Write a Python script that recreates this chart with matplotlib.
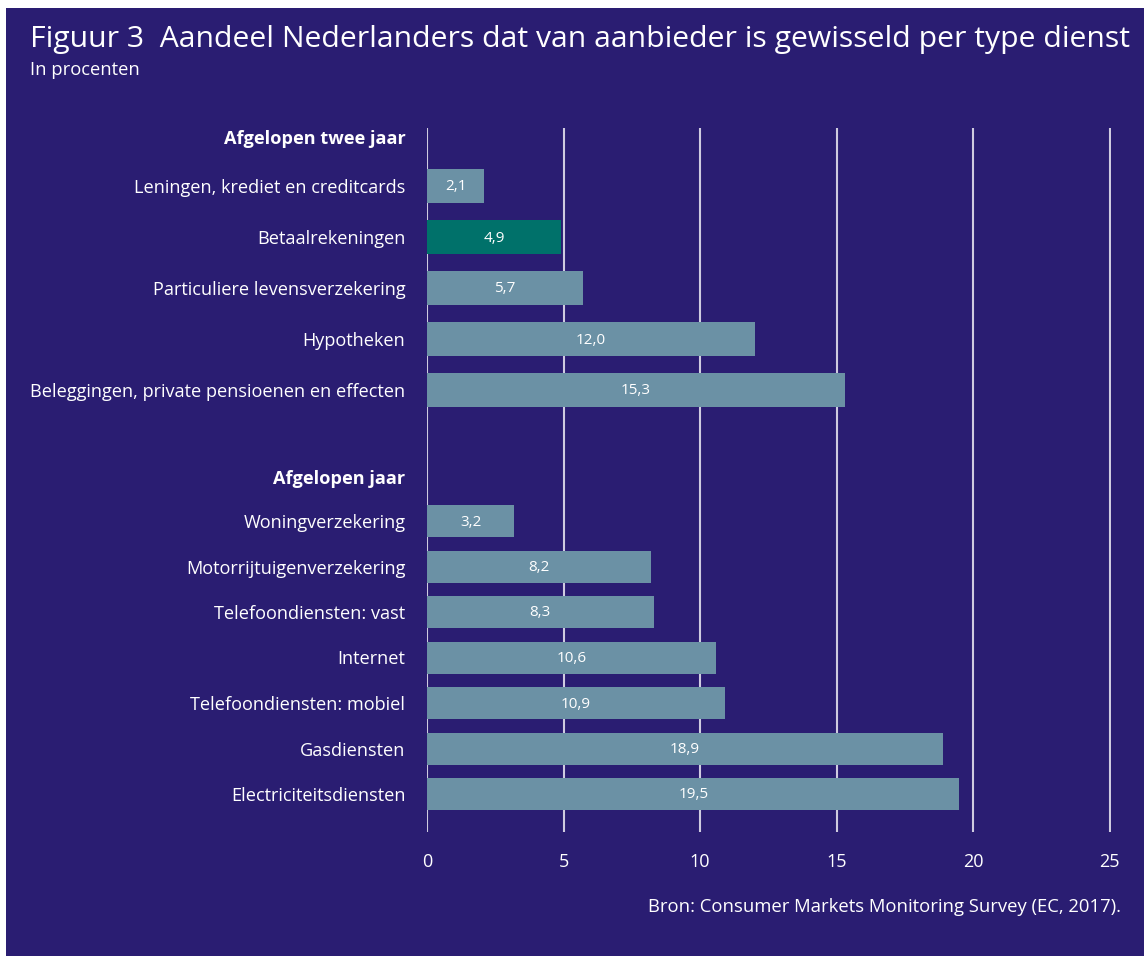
import matplotlib
matplotlib.use("Agg")
import matplotlib.pyplot as plt
from matplotlib.patches import Rectangle

# ---- data ----
group1_header = "Afgelopen twee jaar"
group1_labels = ["Leningen, krediet en creditcards", "Betaalrekeningen",
                 "Particuliere levensverzekering", "Hypotheken",
                 "Beleggingen, private pensioenen en effecten"]
group1_values = [2.1, 4.9, 5.7, 12.0, 15.3]

group2_header = "Afgelopen jaar"
group2_labels = ["Woningverzekering", "Motorrijtuigenverzekering",
                 "Telefoondiensten: vast", "Internet", "Telefoondiensten: mobiel",
                 "Gasdiensten", "Electriciteitsdiensten"]
group2_values = [3.2, 8.2, 8.3, 10.6, 10.9, 18.9, 19.5]

highlight = "Betaalrekeningen"
xticks = [0, 5, 10, 15, 20, 25]

# ---- style ----
NAVY = "#2a1d72"
BAR = "#6b91a5"
TEAL = "#00716a"
GRID = "#cfcbe0"
TXT = "#ffffff"
FONT = ["Open Sans", "DejaVu Sans"]
plt.rcParams["font.family"] = FONT

W, H = 1144, 956
fig = plt.figure(figsize=(W / 100, H / 100), dpi=100)
fig.patch.set_facecolor("white")
fig.add_artist(Rectangle((6 / W, 0), 1 - 6 / W, 1 - 8 / H, transform=fig.transFigure,
                         facecolor=NAVY, edgecolor="none", zorder=-10))

top_px, bot_px = 128, 832
ax = fig.add_axes([427 / W, 1 - bot_px / H, (1111 - 427) / W, (bot_px - top_px) / H])
ax.set_facecolor("none")

# layout positions (pixel-like units)
g1_header_y, g1_start, g1_step, g1_h = 137, 186, 51, 34
g2_header_y, g2_start, g2_step, g2_h = 477, 521, 45.5, 32

ypos1 = [g1_start + i * g1_step for i in range(len(group1_values))]
ypos2 = [g2_start + i * g2_step for i in range(len(group2_values))]

for lbl, v, y in zip(group1_labels, group1_values, ypos1):
    c = TEAL if lbl == highlight else BAR
    ax.barh(y, v, height=g1_h, color=c, zorder=3)
    ax.text(v / 2, y + 1, f"{v:.1f}".replace(".", ","), ha="center", va="center",
            color=TXT, fontsize=11, zorder=4)
for lbl, v, y in zip(group2_labels, group2_values, ypos2):
    ax.barh(y, v, height=g2_h, color=BAR, zorder=3)
    ax.text(v / 2, y + 1, f"{v:.1f}".replace(".", ","), ha="center", va="center",
            color=TXT, fontsize=11, zorder=4)

ax.set_ylim(bot_px, top_px)
ax.set_xlim(0, 25.05)

yt = [g1_header_y] + ypos1 + [g2_header_y] + ypos2
ytl = [group1_header] + group1_labels + [group2_header] + group2_labels
ax.set_yticks(yt)
ax.set_yticklabels(ytl, color=TXT, fontsize=13.1)
for t in ax.get_yticklabels():
    if t.get_text() in (group1_header, group2_header):
        t.set_fontweight("bold")
ax.tick_params(axis="y", length=0, pad=15.5)

ax.set_xticks(xticks)
ax.set_xticklabels([str(x) for x in xticks], color=TXT, fontsize=13)
ax.tick_params(axis="x", length=0, pad=15)

for x in xticks:
    ax.axvline(x, color=GRID, lw=1.5, zorder=1)
for s in ax.spines.values():
    s.set_visible(False)

fig.text(30 / W, 1 - 40 / H, "Figuur 3  Aandeel Nederlanders dat van aanbieder is gewisseld per type dienst",
         color=TXT, fontsize=21.7, va="center", ha="left")
fig.text(30 / W, 1 - 70 / H, "In procenten", color=TXT, fontsize=13.2, va="center", ha="left")
fig.text(1121 / W, 1 - 907 / H, "Bron: Consumer Markets Monitoring Survey (EC, 2017).",
         color=TXT, fontsize=13.3, va="center", ha="right")

fig.savefig("out.png", dpi=100, facecolor=fig.get_facecolor())
